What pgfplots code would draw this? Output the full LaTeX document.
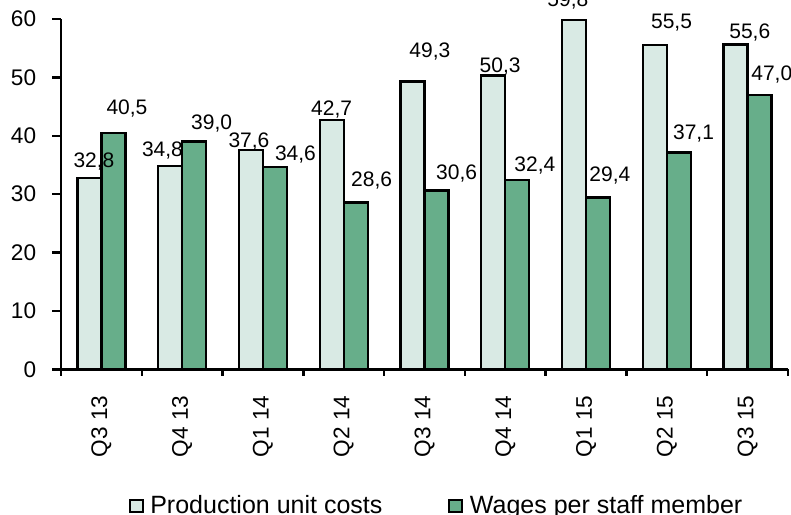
\documentclass[border=0pt]{standalone}
\usepackage{fontspec}
\setmainfont{Liberation Sans}
\usepackage{pgfplots}
\usepackage{pgfplotstable}
\pgfplotsset{compat=1.18}
\definecolor{lightbar}{HTML}{D9EAE4}
\definecolor{darkbar}{HTML}{67AE8A}

% x = category index; lx/ly and dx/dy = label offsets (pt) from bar top
\pgfplotstableread{
x light dark lx ly dx dy
0 32.8 40.5 2.3 5.1 6.8 9.3
1 34.8 39.0 -3.85 4.9 8.75 6.15
2 37.6 34.6 -1.0 1.35 10.25 3.6
3 42.7 28.6 -0.05 2.2 7.95 7.9
4 49.3 30.6 8.7 12.2 10.05 5.8
5 50.3 32.4 3.45 1.5 8.8 4.3
6 59.8 29.4 -3.1 6.75 5.9 8.2
7 55.5 37.1 8.35 8.35 7.35 6.7
8 55.6 47.0 7.1 3.05 6.1 7.0
}\data

\begin{document}
\begin{tikzpicture}
\useasboundingbox (-30.5pt,-72.35pt) rectangle (365pt,184.65pt);
\clip (-30.5pt,-72.35pt) rectangle (365pt,184.65pt);
\begin{axis}[
  at={(0pt,0pt)}, anchor=south west,
  scale only axis,
  width=363.5pt, height=175.15pt,
  clip=false,
  axis x line*=bottom, axis y line*=left,
  axis line style={line width=1.2pt},
  xmin=-0.5, xmax=8.5,
  ymin=0, ymax=60,
  ytick={0,10,...,60},
  xtick={0,...,8},
  xticklabels={Q3 13,Q4 13,Q1 14,Q2 14,Q3 14,Q4 14,Q1 15,Q2 15,Q3 15},
  major x tick style={draw=none},
  minor xtick={-0.5,0.5,...,8.5},
  tick align=outside,
  major tick length=4.35pt,
  minor tick length=3.3pt,
  tick style={line width=1.2pt, black},
  /pgf/number format/assume math mode=true,
  yticklabel style={font=\fontsize{11.3}{13}\selectfont, anchor=east, inner sep=0pt},
  yticklabel shift=7.9pt,
  xticklabel style={font=\fontsize{11.3}{13}\selectfont, rotate=90, anchor=east, inner sep=0pt},
  xticklabel shift=8.7pt,
  ybar=0pt, bar width=12pt,
  nodes near coords={\pgfmathprintnumber[fixed, fixed zerofill, precision=1, use comma, assume math mode=true]{\pgfplotspointmeta}},
  legend columns=2,
  legend style={
    at={(0.0926,-0.3903)}, anchor=west,
    draw=none, fill=none, inner sep=0pt,
    font=\fontsize{12.5}{14}\selectfont,
    nodes={inner sep=0pt},
    /tikz/every odd column/.append style={column sep=3.4pt},
    /tikz/every even column/.append style={column sep=33pt},
  },
  legend image code/.code={\draw[#1, line width=1pt] (0pt,-2.9pt) rectangle (6.4pt,2.9pt);},
]
\addplot[fill=lightbar, draw=black, line width=1.2pt,
  visualization depends on={\thisrow{lx} \as \ox},
  visualization depends on={\thisrow{ly} \as \oy},
  every node near coord/.append style={font=\fontsize{10.5}{12}\selectfont, anchor=base, xshift=\ox pt, yshift=\oy pt, inner sep=0pt}]
  table[x=x, y=light] {\data};
\addlegendentry{Production unit costs}
\addplot[fill=darkbar, draw=black, line width=1.2pt,
  visualization depends on={\thisrow{dx} \as \ox},
  visualization depends on={\thisrow{dy} \as \oy},
  every node near coord/.append style={font=\fontsize{10.5}{12}\selectfont, anchor=base, xshift=\ox pt, yshift=\oy pt, inner sep=0pt}]
  table[x=x, y=dark] {\data};
\addlegendentry{Wages per staff member}
\end{axis}
\end{tikzpicture}
\end{document}
